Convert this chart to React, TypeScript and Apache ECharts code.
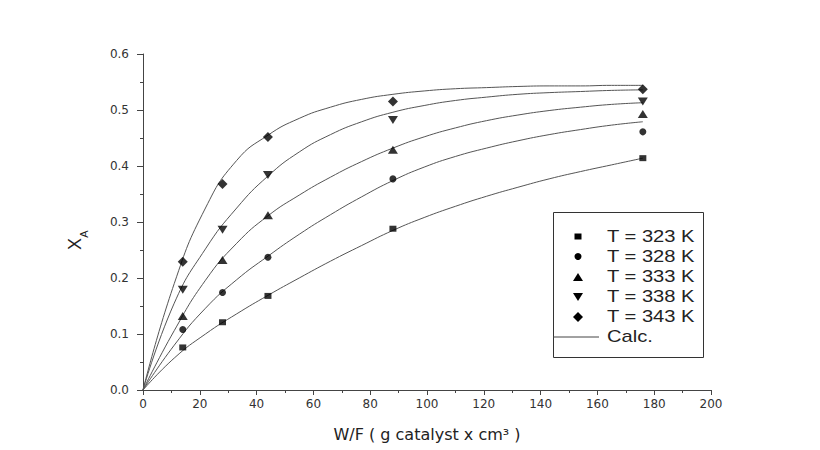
import React, { useEffect, useRef } from "react";
import * as echarts from "echarts";

// Experimental points
const xExp = [14, 28, 44, 88, 176];
const y323 = [0.076, 0.121, 0.168, 0.288, 0.414];
const y328 = [0.108, 0.174, 0.237, 0.377, 0.461];
const y333 = [0.132, 0.232, 0.312, 0.429, 0.493];
const y338 = [0.179, 0.286, 0.384, 0.482, 0.515];
const y343 = [0.229, 0.368, 0.452, 0.515, 0.537];

// Calculated curves
const xCalc = [0, 11, 22, 33, 44, 55, 66, 77, 88, 99, 110, 121, 132, 143, 154, 165, 176];
const c323 = [0, 0.057, 0.1, 0.136, 0.169, 0.2, 0.23, 0.258, 0.285, 0.308, 0.328, 0.346, 0.362, 0.377, 0.39, 0.402, 0.414];
const c328 = [0, 0.08, 0.146, 0.197, 0.239, 0.278, 0.313, 0.345, 0.374, 0.398, 0.417, 0.432, 0.445, 0.456, 0.465, 0.473, 0.479];
const c333 = [0, 0.106, 0.196, 0.262, 0.311, 0.348, 0.38, 0.408, 0.432, 0.452, 0.468, 0.481, 0.491, 0.499, 0.505, 0.51, 0.513];
const c338 = [0, 0.155, 0.252, 0.325, 0.382, 0.425, 0.456, 0.479, 0.496, 0.508, 0.517, 0.523, 0.528, 0.531, 0.533, 0.535, 0.536];
const c343 = [0, 0.19, 0.325, 0.41, 0.455, 0.485, 0.505, 0.519, 0.528, 0.534, 0.538, 0.54, 0.542, 0.543, 0.543, 0.544, 0.544];

const seriesNames = ["T = 323 K", "T = 328 K", "T = 333 K", "T = 338 K", "T = 343 K"];
const calcName = "Calc.";
const xAxisTitle = "W/F ( g catalyst x cm\u00B3 )";

const zip = (xs: number[], ys: number[]) => xs.map((x, i) => [x, ys[i]]);

export default function App() {
  const ref = useRef<HTMLDivElement>(null);
  useEffect(() => {
    if (!ref.current) return;
    const chart = echarts.init(ref.current, null, { renderer: "svg" });
    const expSets = [y323, y328, y333, y338, y343];
    const calcSets = [c323, c328, c333, c338, c343];
    const symbols: any[] = [
      { symbol: "rect", symbolSize: [7, 6], symbolRotate: 0 },
      { symbol: "circle", symbolSize: 7, symbolRotate: 0 },
      { symbol: "triangle", symbolSize: [10, 8], symbolRotate: 0 },
      { symbol: "triangle", symbolSize: [10, 8], symbolRotate: 180 },
      { symbol: "diamond", symbolSize: [10, 10], symbolRotate: 0 },
    ];
    const lineSeries = calcSets.map((c) => ({
      type: "line",
      name: calcName,
      data: zip(xCalc, c),
      showSymbol: false,
      symbol: "none",
      smooth: 0.5,
      lineStyle: { color: "#555", width: 1 },
      z: 2,
      silent: true,
    }));
    const scatterSeries = expSets.map((ys, i) => ({
      type: "scatter",
      name: seriesNames[i],
      data: zip(xExp, ys),
      ...symbols[i],
      itemStyle: { color: "#000" },
      z: 3,
    }));

    const legendFont = "16px 'Liberation Sans', Arial, sans-serif";
    const rowY = [236.5, 256.5, 277, 297, 317, 337];
    const legendTexts = [...seriesNames, calcName].map((t, i) => ({
      type: "text",
      x: 607,
      y: rowY[i],
      scaleX: 1.26,
      style: {
        text: t,
        font: legendFont,
        fill: "#222",
        align: "left",
        verticalAlign: "middle",
      },
      z: 11,
    }));
    const sx = 578;
    const legendSymbols: any[] = [
      { type: "rect", shape: { x: sx - 3.5, y: rowY[0] - 3, width: 7, height: 6 }, style: { fill: "#000" }, z: 11 },
      { type: "circle", shape: { cx: sx, cy: rowY[1], r: 3.5 }, style: { fill: "#000" }, z: 11 },
      { type: "polygon", shape: { points: [[sx - 5, rowY[2] + 4], [sx + 5, rowY[2] + 4], [sx, rowY[2] - 4]] }, style: { fill: "#000" }, z: 11 },
      { type: "polygon", shape: { points: [[sx - 5, rowY[3] - 4], [sx + 5, rowY[3] - 4], [sx, rowY[3] + 4]] }, style: { fill: "#000" }, z: 11 },
      { type: "polygon", shape: { points: [[sx, rowY[4] - 5], [sx + 5, rowY[4]], [sx, rowY[4] + 5], [sx - 5, rowY[4]]] }, style: { fill: "#000" }, z: 11 },
      { type: "line", shape: { x1: 553, y1: rowY[5], x2: 599, y2: rowY[5] }, style: { stroke: "#444", lineWidth: 1 }, z: 11 },
    ];

    chart.setOption({
      animation: false,
      backgroundColor: "#fff",
      grid: { left: 143, right: 109, top: 54, bottom: 60, containLabel: false, outerBoundsMode: "none" },
      xAxis: {
        type: "value",
        min: 0,
        max: 200,
        interval: 20,
        name: xAxisTitle,
        nameLocation: "middle",
        nameGap: 36,
        nameTextStyle: { fontFamily: "DejaVu Sans", fontSize: 16, color: "#222" },
        axisLine: { show: true, onZero: false, lineStyle: { color: "#444", width: 1 } },
        axisTick: { show: true, inside: false, length: 5, lineStyle: { color: "#444" } },
        minorTick: { show: true, splitNumber: 2, length: 3, lineStyle: { color: "#444" } },
        splitLine: { show: false },
        axisLabel: { margin: 8, fontFamily: "DejaVu Sans", fontSize: 12, color: "#333" },
      },
      yAxis: {
        type: "value",
        min: 0,
        max: 0.6,
        interval: 0.1,
        axisLine: { show: true, onZero: false, lineStyle: { color: "#444", width: 1 } },
        axisTick: { show: true, inside: false, length: 6, lineStyle: { color: "#444" } },
        minorTick: { show: true, splitNumber: 2, length: 3, lineStyle: { color: "#444" } },
        splitLine: { show: false },
        axisLabel: {
          margin: 14,
          fontFamily: "DejaVu Sans",
          fontSize: 12,
          color: "#333",
          formatter: (v: number) => v.toFixed(1),
        },
      },
      series: [...lineSeries, ...scatterSeries],
      graphic: [
        {
          type: "rect",
          shape: { x: 553.5, y: 212.5, width: 150, height: 145 },
          style: { fill: "#fff", stroke: "#333", lineWidth: 1 },
          z: 10,
        },
        ...legendSymbols,
        ...legendTexts,
        {
          type: "group",
          x: 75,
          y: 244,
          rotation: Math.PI / 2,
          children: [
            {
              type: "text",
              x: 0,
              y: 0,
              style: { text: "X", font: "18px 'Liberation Sans', Arial, sans-serif", fill: "#222", align: "center", verticalAlign: "middle" },
            },
            {
              type: "text",
              x: 10,
              y: 9,
              style: { text: "A", font: "11px 'Liberation Sans', Arial, sans-serif", fill: "#222", align: "center", verticalAlign: "middle" },
            },
          ],
        },
      ],
    });
    return () => chart.dispose();
  }, []);
  return <div ref={ref} style={{ position: "fixed", left: 0, top: 0, width: 820, height: 450 }} />;
}
